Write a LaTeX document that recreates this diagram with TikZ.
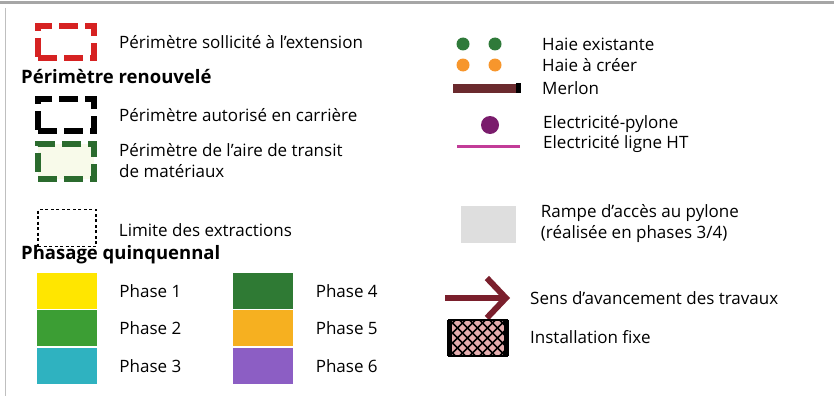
\documentclass[tikz,border=0pt]{standalone}
\usepackage{fontspec}
\setmainfont{Open Sans}
\usetikzlibrary{arrows,arrows.meta,positioning}
\definecolor{perired}{HTML}{D62222}
\definecolor{perigreen}{HTML}{2B6B2E}
\definecolor{transitfill}{HTML}{F8FAEA}
\definecolor{phaseone}{HTML}{FFE600}
\definecolor{phasetwo}{HTML}{3C9E34}
\definecolor{phasethree}{HTML}{2FB2C0}
\definecolor{phasefour}{HTML}{2F7A34}
\definecolor{phasefive}{HTML}{F6B020}
\definecolor{phasesix}{HTML}{8C5EC4}
\definecolor{hedgegreen}{HTML}{2F7A3A}
\definecolor{hedgeorange}{HTML}{F7962C}
\definecolor{merlon}{HTML}{6B2A2E}
\definecolor{pylone}{HTML}{7A1C6C}
\definecolor{htline}{HTML}{C23C98}
\definecolor{rampe}{HTML}{DEDEDE}
\definecolor{travaux}{HTML}{7A1F2C}
\tikzset{
    %Define style for legend texts
    lbl/.style={
           anchor=west,
           inner sep=0pt,
           align=left,
           font=\fontsize{17}{21}\selectfont},
    heading/.style={
           anchor=west,
           inner sep=0pt,
           font=\fontsize{18.5}{21}\selectfont\bfseries},
    %Define style for perimeter boxes
    perimeter/.style={
           rectangle,
           inner sep=0pt,
           line width=6pt,
           minimum width=56pt,
           minimum height=32pt,
           dash pattern=on 19pt off 7pt},
    limitbox/.style={
           rectangle,
           inner sep=0pt,
           draw=black,
           line width=1.5pt,
           minimum width=58pt,
           minimum height=37pt,
           dash pattern=on 3pt off 2.5pt},
    %Define style for phase swatches
    swatch/.style={
           rectangle,
           inner sep=0pt,
           minimum width=60pt,
           minimum height=36pt},
    hedge/.style={
           circle,
           inner sep=0pt,
           minimum size=13pt},
}
\begin{document}
\begin{tikzpicture}[x=1pt,y=-1pt]
\useasboundingbox (0,0) rectangle (834,396);
 %frame
\draw[gray!70, line width=3pt] (0,3) -- (834,3);
\draw[gray!50, line width=1pt] (5,8) -- (5,396);
 %perimeters
\node[perimeter, draw=perired] (ext) at (66,42) {};
\node[lbl, right=22pt of ext] (extlbl) {Périmètre sollicité à l'extension};
\node[heading] (renouv) at (21,77) {Périmètre renouvelé};
\node[perimeter, draw=black] (carr) at (66,115) {};
\node[lbl, right=22pt of carr] (carrlbl) {Périmètre autorisé en carrière};
\node[perimeter, draw=perigreen, fill=transitfill, minimum height=35pt] (transit) at (66,161) {};
\node[lbl, right=22pt of transit] (transitlbl) {Périmètre de l'aire de transit\\de matériaux};
\node[limitbox] (limit) at (67,228) {};
\node[lbl, right=22pt of limit, yshift=-2pt] (limitlbl) {Limite des extractions};
 %phases
\node[heading] (phasage) at (21,255) {Phasage quinquennal};
\node[swatch, fill=phaseone] (ph1) at (67,291) {};
\node[swatch, fill=phasetwo, below=1pt of ph1] (ph2) {};
\node[swatch, fill=phasethree, below=1pt of ph2] (ph3) {};
\node[swatch, fill=phasefour, right=136pt of ph1] (ph4) {};
\node[swatch, fill=phasefive, below=1pt of ph4] (ph5) {};
\node[swatch, fill=phasesix, below=1pt of ph5] (ph6) {};
\foreach \n in {1,...,6}
    \node[lbl, right=22pt of ph\n] {Phase \n};
 %hedges and merlon
\node[hedge, fill=hedgegreen] (hg1) at (463,44) {};
\node[hedge, fill=hedgegreen] (hg2) at (495,44) {};
\node[hedge, fill=hedgeorange] (ho1) at (463,65) {};
\node[hedge, fill=hedgeorange] (ho2) at (495,65) {};
\node[rectangle, inner sep=0pt, fill=merlon, minimum width=68pt, minimum height=9pt] (merlon) at (487,88) {};
\fill[black] (merlon.north east) rectangle ([xshift=-5pt]merlon.south east);
\node[lbl] (hglbl) at (542,44) {Haie existante};
\node[lbl] (holbl) at (542,65) {Haie à créer};
\node[lbl] (merlonlbl) at (542,88) {Merlon};
 %electricity
\node[circle, inner sep=0pt, minimum size=18pt, fill=pylone] (pyl) at (490,125) {};
\coordinate (ht1) at (457,146);
\coordinate (ht2) at (520,146);
\draw[htline, line width=3pt] (ht1) -- (ht2);
\node[lbl] (pyllbl) at (543,124) {Electricité-pylone};
\node[lbl] (htlbl) at (543,144) {Electricité ligne HT};
 %ramp
\node[rectangle, inner sep=0pt, fill=rampe, minimum width=55pt, minimum height=37pt] (ramp) at (488,224) {};
\node[lbl, right=25pt of ramp] (ramplbl) {Rampe d'accès au pylone\\(réalisée en phases 3/4)};
 %direction of works
\coordinate (sens1) at (445,298);
\coordinate (sens2) at (510,298);
\draw[travaux, line width=6pt, -{Straight Barb[length=19pt,width=40pt]}] (sens1) -- (sens2);
\node[lbl] (senslbl) at (530,298) {Sens d'avancement des travaux};
 %fixed installation
\node[rectangle, inner sep=0pt, fill=merlon!50!red!35, minimum width=57pt, minimum height=36pt] (inst) at (478,338) {};
\begin{scope}
\clip (inst.north west) rectangle (inst.south east);
\foreach \i in {-40,-30,...,60}
    \draw[black, line width=1.6pt] ([xshift=\i pt]inst.north west) -- ++(40,40)
        ([xshift=\i pt]inst.south west) -- ++(40,-40);
\end{scope}
\draw[black, line width=2pt] (inst.north west) rectangle (inst.south east);
\draw[black, line width=5pt] (inst.north west) -- (inst.south west)
    (inst.north east) -- (inst.south east);
\node[lbl] (instlbl) at (530,337) {Installation fixe};
\end{tikzpicture}
\end{document}
